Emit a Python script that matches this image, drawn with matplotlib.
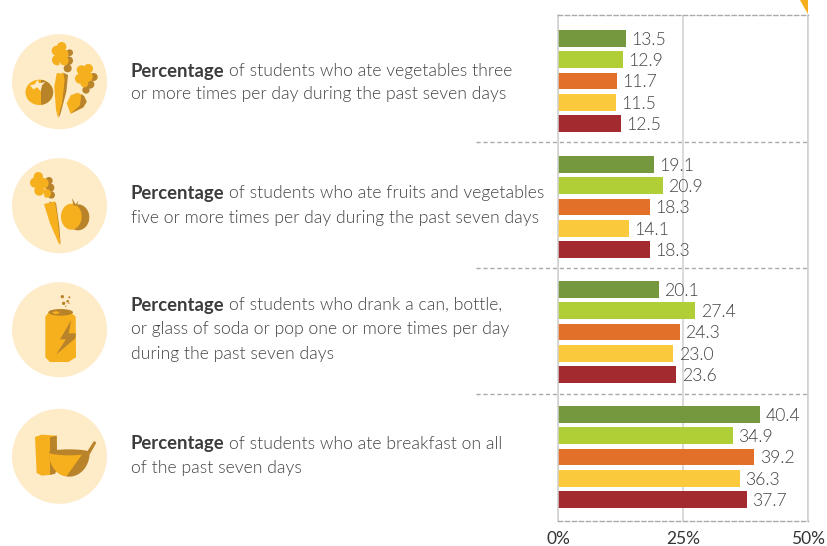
import matplotlib
matplotlib.use('Agg')
import matplotlib.pyplot as plt
from matplotlib import font_manager as fm
from matplotlib.patches import Circle, Ellipse, Polygon, Rectangle
import numpy as np
import os

plt.rcParams['font.family'] = ['Lato', 'DejaVu Sans']

W, H = 827, 546

# one list per question, top to bottom
vegetables = [13.5, 12.9, 11.7, 11.5, 12.5]
fruits_vegetables = [19.1, 20.9, 18.3, 14.1, 18.3]
soda = [20.1, 27.4, 24.3, 23.0, 23.6]
breakfast = [40.4, 34.9, 39.2, 36.3, 37.7]
groups = [vegetables, fruits_vegetables, soda, breakfast]

bar_colors = ['#75973D', '#B0CF37', '#E37029', '#FBC93C', '#A32B2F']
x_ticks = [0, 25, 50]
x_labels = ['0%', '25%', '50%']

descriptions = [
    ['of students who ate vegetables three', 'or more times per day during the past seven days'],
    ['of students who ate fruits and vegetables', 'five or more times per day during the past seven days'],
    ['of students who drank a can, bottle,', 'or glass of soda or pop one or more times per day', 'during the past seven days'],
    ['of students who ate breakfast on all', 'of the past seven days'],
]
text_rows = [[71, 94], [193, 218], [305, 329, 354], [444, 468]]

CREAM = '#FEEBC8'
GOLD = '#F6AF1D'
DARK = '#B9832A'

# matplotlib's "light" lands on the hairline cut, so pick the Light file by name
light_files = [f for f in fm.findSystemFonts() if os.path.basename(f).lower() == 'lato-light.ttf']
if light_files:
    light_font = fm.FontProperties(fname=light_files[0])
    TEXT_COLOR = '#444444'
else:
    light_font = fm.FontProperties(family='Lato', weight='normal')
    TEXT_COLOR = '#5a5a5a'
TEXT_SIZE = 12.7

fig = plt.figure(figsize=(W / 100, H / 100), dpi=100)

# background layer in pixel coordinates: icons, question text, separators
bg = fig.add_axes([0, 0, 1, 1])
bg.set_xlim(0, W)
bg.set_ylim(H, 0)
bg.axis('off')


def poly(pts, color, ox, oy):
    pts = np.array(pts, dtype=float) / 3 + [ox, oy]
    bg.add_patch(Polygon(pts, closed=True, fc=color, ec='none'))


def dot(x, y, r, color, ox, oy):
    bg.add_patch(Circle((x / 3 + ox, y / 3 + oy), r / 3, fc=color, ec='none'))


def half_ellipse(x, y, w, h, split, ox, oy):
    # gold ellipse with a dark part on the right of split
    e1 = Ellipse((x / 3 + ox, y / 3 + oy), w / 3, h / 3, fc=GOLD, ec='none')
    e2 = Ellipse((x / 3 + ox, y / 3 + oy), w / 3, h / 3, fc=DARK, ec='none')
    bg.add_patch(e1)
    bg.add_patch(e2)
    clip = Rectangle((split / 3 + ox, 0), 200, 600, transform=bg.transData)
    e2.set_clip_path(clip)


def leaves(pts, color, ox, oy):
    for x, y, r in pts:
        dot(x, y, r, color, ox, oy)


for cy in [81.7, 205.7, 329.7, 456.3]:
    bg.add_patch(Circle((59.5, cy), 47.5, fc=CREAM, ec='none'))

# icon 1: tomato, carrot, beet
ox, oy = 0, 20
half_ellipse(118, 217, 83, 76, 124, ox, oy)
poly([(90, 196), (104, 193), (112, 180), (118, 190), (136, 186), (126, 196), (122, 214), (112, 202), (100, 208)], CREAM, ox, oy)
leaves([(209, 98, 10), (206, 122, 13), (203, 145, 12)], DARK, ox, oy)
poly([(190, 158), (204, 165), (199, 215), (182, 280), (176, 294)], DARK, ox, oy)
leaves([(185, 80, 14), (170, 92, 15), (190, 102, 15), (172, 120, 16), (192, 122, 14)], GOLD, ox, oy)
poly([(170, 160), (190, 158), (194, 180), (186, 250), (174, 294), (168, 270), (163, 200)], GOLD, ox, oy)
leaves([(281, 171, 12), (270, 193, 13), (258, 210, 11)], DARK, ox, oy)
leaves([(265, 146, 14), (244, 150, 14), (262, 170, 16), (240, 176, 15), (253, 190, 12)], GOLD, ox, oy)
poly([(233, 218), (252, 228), (260, 245), (250, 262), (212, 281), (200, 250), (212, 226)], GOLD, ox, oy)
poly([(244, 222), (252, 228), (260, 245), (250, 262), (212, 281), (240, 256)], DARK, ox, oy)
bg.plot([240 / 3, 234 / 3], [oy + 195 / 3, oy + 218 / 3], color=CREAM, lw=0.9)
bg.plot([180 / 3, 182 / 3], [oy + 130 / 3, oy + 160 / 3], color=CREAM, lw=0.9)

# icon 2: carrot and apple
leaves([(147, 482, 11), (150, 503, 13), (154, 525, 11)], DARK, ox, oy)
poly([(148, 545), (168, 548), (178, 620), (182, 675), (170, 620)], DARK, ox, oy)
leaves([(115, 470, 14), (105, 488, 15), (130, 490, 16), (118, 512, 15), (140, 520, 13)], GOLD, ox, oy)
poly([(132, 552), (165, 544), (172, 590), (181, 674), (176, 670), (150, 610)], GOLD, ox, oy)
bg.plot([130 / 3, 136 / 3], [oy + 522 / 3, oy + 548 / 3], color=CREAM, lw=0.9)
bg.add_patch(Ellipse((234 / 3, oy + 592 / 3), 68 / 3, 78 / 3, fc=DARK, ec='none'))
bg.add_patch(Ellipse((214 / 3, oy + 590 / 3), 62 / 3, 78 / 3, fc=GOLD, ec='none'))
poly([(216, 534), (226, 552), (224, 556), (236, 542), (230, 558), (220, 556)], DARK, ox, oy)

# icon 3: can with bolt
ox, oy = 0, 270
poly([(136, 140), (150, 122), (205, 120), (227, 140), (228, 262), (205, 276), (150, 276), (136, 262)], GOLD, ox, oy)
bg.add_patch(Ellipse((182 / 3, oy + 127 / 3), 74 / 3, 20 / 3, fc=DARK, ec='none'))
bg.add_patch(Ellipse((168 / 3, oy + 128 / 3), 20 / 3, 8 / 3, fc=GOLD, ec='none'))
poly([(214, 150), (206, 190), (228, 190), (226, 205), (168, 254), (198, 208), (180, 208)], DARK, ox, oy)
leaves([(187, 80, 5), (208, 82, 3), (203, 94, 4), (191, 100, 5), (207, 100, 2), (197, 109, 2)], DARK, ox, oy)

# icon 4: cup and bowl
poly([(105, 504), (125, 497), (170, 500), (172, 598), (155, 617), (125, 620), (110, 612)], GOLD, ox, oy - 1)
poly([(150, 505), (170, 500), (172, 598), (165, 615), (150, 617)], DARK, ox, oy - 1)
poly([(262, 544), (282, 513), (289, 518), (270, 552)], DARK, ox, oy)
t = np.linspace(0, np.pi, 40)
bowl = np.column_stack([208 + 61 * np.cos(t), 548 + 72 * np.sin(t)])
poly(bowl, DARK, ox, oy)
t2 = np.linspace(np.pi / 2, np.pi, 20)
bowl_left = np.vstack([[[250, 548]], np.column_stack([200 + 53 * np.cos(t2), 548 + 70 * np.sin(t2)])])
poly(bowl_left, GOLD, ox, oy)
bg.add_patch(Ellipse((208 / 3, oy + 547 / 3), 122 / 3, 18 / 3, fc=DARK, ec='none'))

# question text, bold word first
renderer = fig.canvas.get_renderer()
for lines, rows in zip(descriptions, text_rows):
    head = bg.text(131, rows[0], 'Percentage', fontsize=13.3, fontweight='bold',
                   color='#3c3c3c', va='center', ha='left')
    x1 = bg.transData.inverted().transform(head.get_window_extent(renderer))[1, 0]
    bg.text(x1 + 4, rows[0], lines[0], fontproperties=light_font, fontsize=TEXT_SIZE,
            color=TEXT_COLOR, va='center', ha='left')
    for line, y in zip(lines[1:], rows[1:]):
        bg.text(131, y, line, fontproperties=light_font, fontsize=TEXT_SIZE,
                color=TEXT_COLOR, va='center', ha='left')

# dashed separators between the questions
for y in [142, 268, 394]:
    bg.plot([476, 808], [y, y], color='#aaaaaa', lw=1.0, ls=(0, (3, 2)))

# corner tab at the top right
poly([(2400, 0), (2424, 0), (2424, 42), (2412, 22)], '#F6AF1D', 0, 0)

# bars
ax = fig.add_axes([558 / W, 1 - 521 / H, (808 - 558) / W, (521 - 15) / H])
ax.patch.set_alpha(0)
ax.set_xlim(0, 50)
ax.set_ylim(521, 15)

group_centres = [81, 207, 332, 457]
for centre, vals in zip(group_centres, groups):
    ypos = centre + (np.arange(5) - 2) * 21.3
    ax.barh(ypos, vals, height=16.5, color=bar_colors, zorder=2)
    for y, v in zip(ypos, vals):
        ax.annotate(f'{v:.1f}', (v, y), xytext=(4.2, -1), textcoords='offset points',
                    va='center', ha='left', fontproperties=light_font, fontsize=TEXT_SIZE,
                    color=TEXT_COLOR)

ax.set_yticks([])
ax.set_xticks(x_ticks)
ax.set_xticklabels(x_labels, fontsize=12.5, color='#333333')
ax.tick_params(axis='x', length=0, pad=7)
ax.xaxis.grid(True, color='#d0d0d0', lw=1.1)
ax.set_axisbelow(True)
for s in ['left', 'right']:
    ax.spines[s].set_color('#d0d0d0')
    ax.spines[s].set_linewidth(1.1)
for s in ['top', 'bottom']:
    ax.spines[s].set_color('#aaaaaa')
    ax.spines[s].set_linewidth(1.0)
    ax.spines[s].set_linestyle((0, (3, 2)))

fig.savefig('out.png', dpi=100)
